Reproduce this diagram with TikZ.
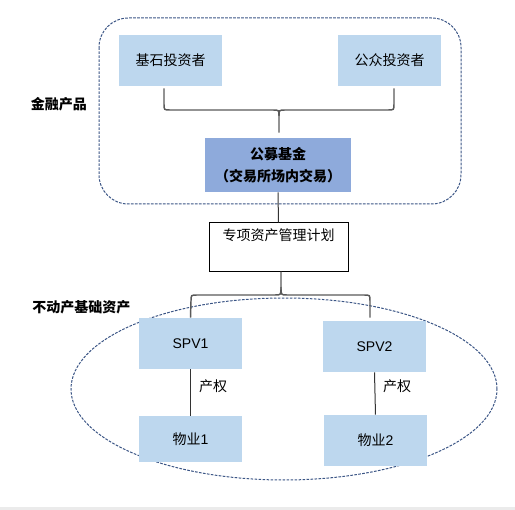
\documentclass[tikz,border=0pt]{standalone}
\usepackage{fontspec}
\setmainfont{Liberation Sans}
\newfontfamily\cjk{Noto Sans CJK SC}
\usetikzlibrary{calc}
\definecolor{lblue}{HTML}{BDD7EE}
\definecolor{mblue}{HTML}{8EAADB}
\definecolor{dborder}{HTML}{3B5585}
\definecolor{bracegray}{HTML}{595959}
\definecolor{bandgray}{HTML}{EBEBEB}
\begin{document}
\begin{tikzpicture}[x=0.75pt,y=-0.75pt,
  txt/.style={font=\cjk\fontsize{10.5}{12}\selectfont},
  bbox/.style={txt,fill=lblue,inner sep=0pt,minimum width=77.25pt,minimum height=38.25pt},
  latinbox/.style={bbox,font=\rmfamily\fontsize{10.5}{12}\selectfont},
  fundbox/.style={txt,fill=mblue,inner sep=0pt,minimum width=109.5pt,minimum height=40.5pt,align=center,font=\cjk\bfseries\fontsize{10.5}{16.5}\selectfont},
  planbox/.style={txt,draw=black,line width=0.75pt,inner sep=0pt,minimum width=104.25pt,minimum height=36pt,text height=13.5pt,text depth=22.5pt},
  grouplabel/.style={font=\cjk\bfseries\fontsize{10.5}{12}\selectfont},
  conn/.style={draw=black!80,line width=0.75pt},
  bracel/.style={draw=bracegray,line width=1.1pt},
  grp/.style={draw=dborder,line width=0.75pt,dash pattern=on 2pt off 1pt}]
\useasboundingbox (0,0) rectangle (515,510);
\fill[bandgray] (0,507) rectangle (515,510);

% groups
\draw[grp,rounded corners=22pt] (99,18) rectangle (461,204);
\draw[grp] (284,389) ellipse [x radius=159.75pt, y radius=68.25pt];
\node[grouplabel] (lbl1) at (59,104) {金融产品};
\node[grouplabel] (lbl2) at (81.5,307) {不动产基础资产};

% nodes
\node[bbox] (inv1) at (170.5,60.5) {基石投资者};
\node[bbox] (inv2) at (389.5,60.5) {公众投资者};
\node[fundbox] (fund) at (278,165) {公募基金\\（交易所场内交易）};
\node[planbox] (plan) at (278.5,247) {专项资产管理计划};
\node[latinbox] (spv1) at (190.5,343.5) {SPV1};
\node[latinbox] (spv2) at (374.5,346.5) {SPV2};
\node[bbox,minimum height=34.5pt] (wy1) at (190.5,439) {物业{\rmfamily 1}};
\node[bbox] (wy2) at (375.5,440.5) {物业{\rmfamily 2}};

% top brace
\coordinate (b1l) at ($(inv1.south)+(-6.5,2)$);
\coordinate (b1r) at ($(inv2.south)+(4.5,2)$);
\coordinate (b1t) at ($(fund.north)+(1,-5)$);
\path[bracel] (b1l) -- (164,104) .. controls (164,110) .. (170,110) -- (273,110) .. controls (279,110) .. (279,116) -- (b1t);
\path[bracel] (b1r) -- (394,104) .. controls (394,110) .. (388,110) -- (285,110) .. controls (279,110) .. (279,116);

% fund to plan
\path[conn] (fund.south) -- (plan.north);

% bottom brace
\coordinate (b2t) at ($(plan.south)+(2.5,0)$);
\coordinate (b2l) at (spv1.north);
\coordinate (b2r) at ($(spv2.north)+(-4.5,-3)$);
\path[bracel] (b2t) -- (281,287) .. controls (281,295) .. (275,295) -- (197,295) .. controls (191,295) .. (191,301) -- (b2l);
\path[bracel] (281,287) .. controls (281,295) .. (287,295) -- (364,295) .. controls (370,295) .. (370,301) -- (b2r);

% property rights
\path[conn] (spv1.south) -- (wy1.north);
\path[conn] (spv2.south) -- (wy2.north);
\node[txt] (pr1) at (213,386) {产权};
\node[txt] (pr2) at (397,386) {产权};
\end{tikzpicture}
\end{document}
